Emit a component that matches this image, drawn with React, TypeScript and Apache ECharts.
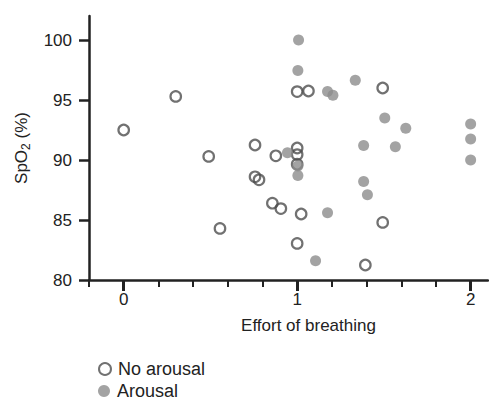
import React, { useEffect, useRef } from "react";
import * as echarts from "echarts";

const noArousalX = [0, 0.3, 0.49, 0.555, 0.757, 0.877, 1.0, 1.0, 1.0, 0.757, 0.78, 0.857, 0.906, 1.023, 1.0, 1.393, 1.493, 1.0, 1.065, 1.493];
const noArousalY = [92.5, 95.3, 90.3, 84.3, 91.25, 90.35, 91.0, 90.45, 89.65, 88.6, 88.35, 86.4, 85.95, 85.5, 83.05, 81.25, 84.8, 95.7, 95.75, 96.0];

const arousalX = [1.008, 1.004, 1.175, 1.206, 1.335, 1.505, 1.626, 1.383, 1.566, 2.0, 2.0, 2.0, 1.383, 1.405, 0.944, 1.004, 1.004, 1.175, 1.106];
const arousalY = [100, 97.45, 95.7, 95.4, 96.65, 93.5, 92.65, 91.2, 91.1, 93.0, 91.75, 90.0, 88.2, 87.1, 90.6, 89.5, 88.7, 85.6, 81.6];

const xMajorTicks = [0, 1, 2];
const xMinorTicks = [-0.2, 0.2, 0.4, 0.6, 0.8, 1.2, 1.4, 1.6, 1.8, 2.0];
const yTicks = [80, 85, 90, 95, 100];

const seriesNames = ["No arousal", "Arousal"];

export default function App() {
  const ref = useRef<HTMLDivElement>(null);
  useEffect(() => {
    if (!ref.current) return;
    const chart = echarts.init(ref.current, undefined, { renderer: "svg" });
    const font = "'Liberation Sans', Arial, Helvetica, sans-serif";
    const textColor = "#222";
    const axisColor = "#222";
    const zip = (xs: number[], ys: number[]) => xs.map((x, i) => [x, ys[i]]);
    const legendBase = {
      orient: "vertical",
      left: 93,
      padding: [2, 5, 2, 5],
      itemWidth: 12,
      itemHeight: 12,
      itemGap: 4,
      icon: "circle",
      textStyle: { fontSize: 18, color: textColor, fontFamily: font, padding: [0, 0, 0, 2] },
    };
    chart.setOption({
      animation: false,
      backgroundColor: "#fff",
      textStyle: { fontFamily: font },
      grid: { left: 89, right: 1, top: 16, bottom: 122, outerBoundsMode: "none" },
      legend: [
        { ...legendBase, top: 358, data: [seriesNames[0]] },
        { ...legendBase, top: 380, data: [seriesNames[1]] },
      ],
      xAxis: [
        {
          type: "value",
          min: -0.2,
          max: 2.1,
          position: "bottom",
          name: "Effort of breathing",
          nameLocation: "middle",
          nameGap: 37,
          nameTextStyle: { fontSize: 17, color: textColor, fontFamily: font, padding: [0, 0, 0, 40] },
          axisLine: { show: true, onZero: false, lineStyle: { color: axisColor, width: 2.5 } },
          axisTick: { show: true, length: 7, lineStyle: { color: axisColor, width: 2 }, customValues: xMinorTicks },
          axisLabel: { show: false },
          splitLine: { show: false },
        },
        {
          type: "value",
          min: -0.2,
          max: 2.1,
          position: "bottom",
          axisLine: { show: false, onZero: false },
          axisTick: { show: true, length: 11, lineStyle: { color: axisColor, width: 3 }, customValues: xMajorTicks },
          axisLabel: {
            show: true,
            customValues: xMajorTicks,
            margin: 11,
            fontSize: 17,
            color: textColor,
            fontFamily: font,
            formatter: (v: number) => String(Math.round(v)),
          },
          splitLine: { show: false },
        },
      ],
      yAxis: {
        type: "value",
        min: 80,
        max: 102,
        name: "{n|SpO}{s|2}{n| (%)}",
        nameLocation: "middle",
        nameRotate: 90,
        nameGap: 57,
        nameTextStyle: {
          color: textColor,
          fontFamily: font,
          rich: {
            n: { fontSize: 17, lineHeight: 22, color: textColor, fontFamily: font },
            s: { fontSize: 12, lineHeight: 12, verticalAlign: "bottom", color: textColor, fontFamily: font },
          },
        },
        axisLine: { show: true, onZero: false, lineStyle: { color: axisColor, width: 2.5 } },
        axisTick: { show: true, length: 10, lineStyle: { color: axisColor, width: 2.5 }, customValues: yTicks },
        axisLabel: { customValues: yTicks, margin: 17, fontSize: 17, color: textColor, fontFamily: font },
        splitLine: { show: false },
      },
      series: [
        {
          name: seriesNames[0],
          type: "scatter",
          xAxisIndex: 0,
          symbol: "circle",
          symbolSize: 10.5,
          clip: false,
          itemStyle: { color: "rgba(255,255,255,0)", borderColor: "#4d4d4d", borderWidth: 2.2 },
          data: zip(noArousalX, noArousalY),
        },
        {
          name: seriesNames[1],
          type: "scatter",
          xAxisIndex: 0,
          symbol: "circle",
          symbolSize: 11,
          clip: false,
          itemStyle: { color: "#8c8c8c", borderWidth: 0 },
          data: zip(arousalX, arousalY),
        },
      ],
    });
    return () => chart.dispose();
  }, []);
  return (
    <div
      ref={ref}
      style={{ position: "fixed", left: 0, top: 0, width: 489, height: 402, background: "#fff" }}
    />
  );
}
